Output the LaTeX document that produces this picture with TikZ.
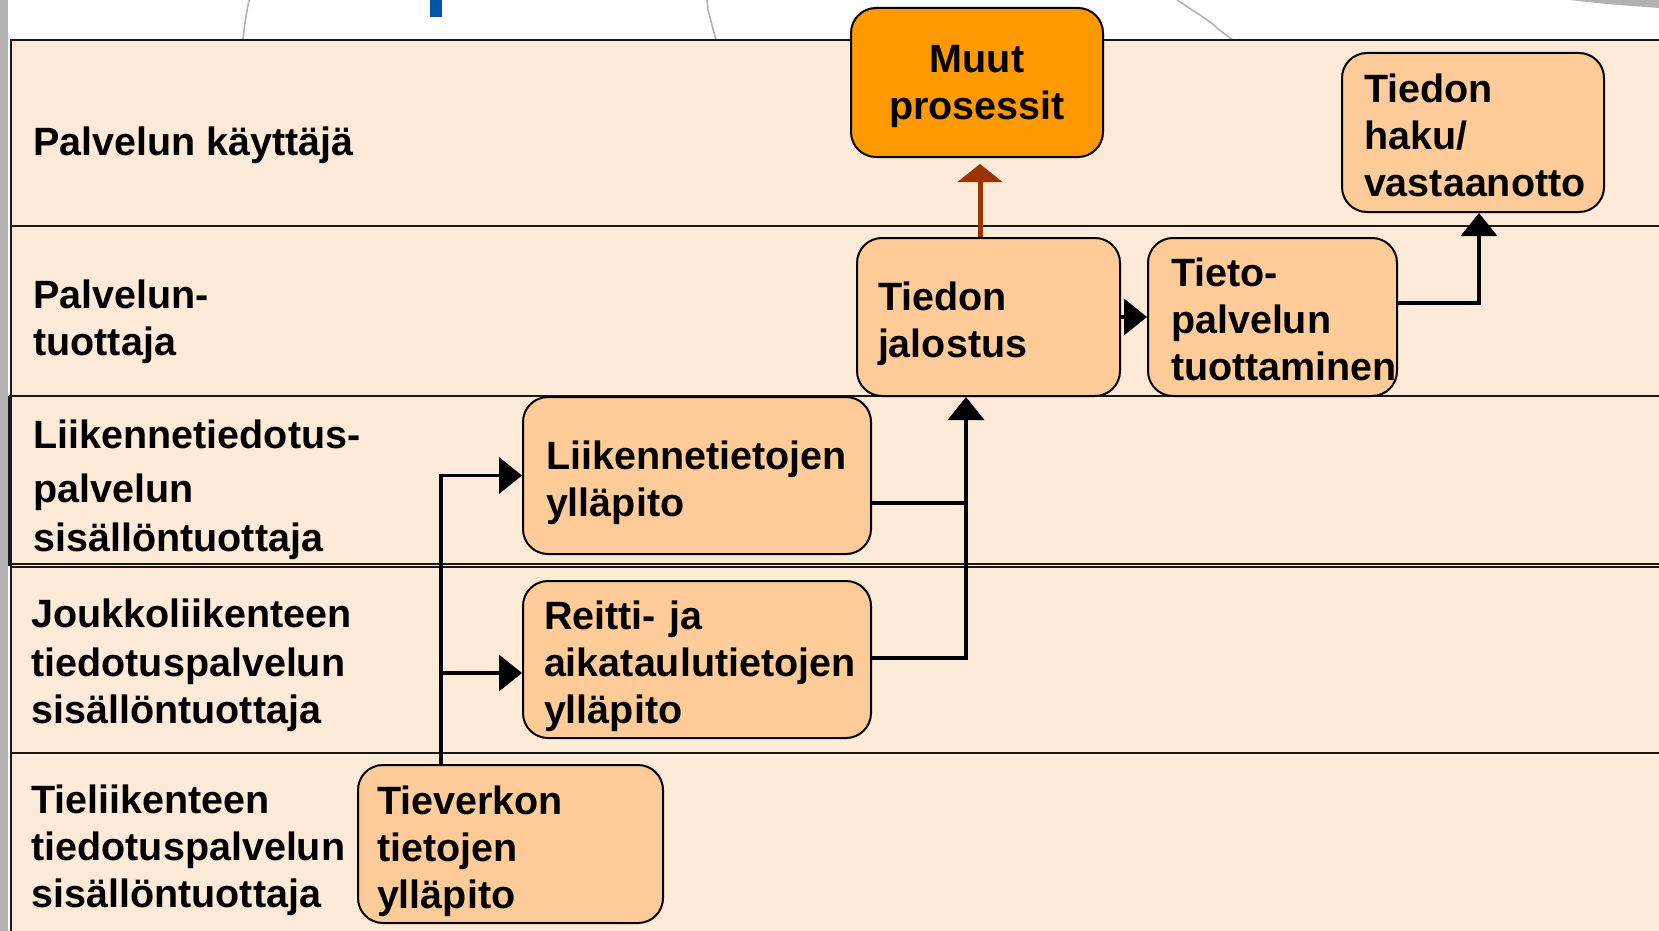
\documentclass[tikz,border=0pt]{standalone}
\usepackage{fontspec}
\setmainfont{Liberation Sans}
\usetikzlibrary{arrows.meta,calc}
\definecolor{lane}{RGB}{253,234,216}
\definecolor{boxfill}{RGB}{255,204,153}
\definecolor{orangebox}{RGB}{255,153,0}
\definecolor{redarrow}{RGB}{153,51,0}
\definecolor{mapgrey}{RGB}{178,178,178}
\definecolor{markblue}{RGB}{0,84,164}
\hyphenpenalty=10000
\exhyphenpenalty=10000
\newcommand\nodp[1]{\raisebox{0pt}[\height][0pt]{#1}}
\begin{document}
\begin{tikzpicture}[x=0.5pt,y=-0.5pt,
  every node/.style={font=\fontsize{19.75pt}{23.5pt}\selectfont\bfseries},
  lanelabel/.style={anchor=north west, inner sep=0pt, align=left},
  proc/.style={draw=black, line width=1pt, fill=boxfill, rounded corners=12.5pt,
    inner xsep=0pt, inner ysep=0pt, align=left, execute at begin node={\rule{0pt}{17pt}}},
  laneline/.style={line width=1pt, draw=black!90},
  mapline/.style={line width=0.8pt, draw=mapgrey},
  plain/.style={line width=1.75pt, draw=black},
  conn/.style={plain, -{Triangle[length=11.5pt,width=18pt]}},
  redconn/.style={line width=2.5pt, draw=redarrow, -{Triangle[length=9pt,width=22pt]}, shorten >=3pt}
]
\useasboundingbox (0,0) rectangle (1659,931);
\fill[white] (0,0) rectangle (1659,931);
% background map remnants
\fill[mapgrey] (0,0) rectangle (8,931);
\draw[mapline] (249,0) .. controls (246,15) and (244,28) .. (243,40);
\draw[mapline] (707,0) -- (708,10) -- (716,40);
\draw[mapline] (1177,0) .. controls (1195,12) and (1212,22) .. (1218,29) -- (1233,40);
\fill[mapgrey] (1570,0) .. controls (1605,4) .. (1659,8) -- (1659,0) -- cycle;
\fill[markblue] (430,0) rectangle (442,17);
% lanes
\fill[lane] (11,40) rectangle (1659,931);
\draw[laneline] (1659,40) -- (11,40) -- (11,931);
\draw[laneline] (11,225.5) -- (1659,225.5);
\draw[laneline] (9,396) -- (1659,396);
\draw[laneline] (9,396) -- (9,566);
\draw[laneline] (9,564) -- (1659,564);
\draw[laneline] (11,567) -- (1659,567);
\draw[laneline] (11,753) -- (1659,753);
% lane labels
\node[lanelabel] (l1) at (33,126) {Palvelun käyttäjä};
\node[lanelabel] (l2) at (33,279) {Palvelun-\\tuottaja};
\node[lanelabel] (l3) at (33,419) {Liikennetiedotus-\\[3.5pt]palvelun\\[1pt]sisällöntuottaja};
\node[lanelabel] (l4) at (31,598) {Joukkoliikenteen\\[1pt]tiedotuspalvelun\\sisällöntuottaja};
\node[lanelabel] (l5) at (31,784) {Tieliikenteen\\tiedotuspalvelun\\sisällöntuottaja};
% process boxes
\node[proc, fill=orangebox, align=center, text depth=0pt, execute at begin node={}, minimum width=126pt, minimum height=74.5pt] (mp) at (977,82.5) {Muut\\prosessit};
\node[proc, minimum width=131pt, minimum height=79.5pt, text width=109pt] (hk) at (1473,132.5) {Tiedon\\haku/\\vastaanotto};
\node[proc, minimum width=131.5pt, minimum height=79pt, text width=110.5pt] (jal) at (988.5,317) {Tiedon\\\nodp{jalostus}};
\node[proc, minimum width=124.5pt, minimum height=79pt, text width=101.5pt] (tp) at (1272.5,317) {Tieto-\\palvelun\\tuottaminen};
\node[proc, minimum width=174pt, minimum height=78.5pt, text width=151pt] (lt) at (697,475.5) {Liikennetietojen\\\nodp{ylläpito}};
\node[proc, minimum width=174pt, minimum height=78.5pt, text width=153pt] (rt) at (697,659.5) {Reitti- ja\\aikataulutietojen\\\nodp{ylläpito}};
\node[proc, minimum width=152.5pt, minimum height=79pt, text width=133.5pt] (tv) at (510.5,844) {Tieverkon\\tietojen\\\nodp{ylläpito}};
% connectors
\draw[redconn] ($(jal.north -| mp.south)+(3,0)$) -- ($(mp.south)+(3,0)$);
\draw[conn] (jal.east) -- (tp.west);
\draw[conn] ($(tp.east)+(0,-14)$) -| ($(hk.south)+(6,0)$);
\coordinate (split) at ($(tv.north)+(-69.5,0)$);
\draw[conn] (split) |- (lt.west);
\draw[conn] (split) |- ($(rt.west)+(0,13.5)$);
\coordinate (merge) at ($(jal.south)+(-22.5,0)$);
\coordinate (ltout) at ($(lt.east)+(0,27.5)$);
\draw[plain] (ltout) -- (ltout -| merge);
\draw[conn] ($(rt.east)+(0,-1.5)$) -| (merge);
\end{tikzpicture}
\end{document}
